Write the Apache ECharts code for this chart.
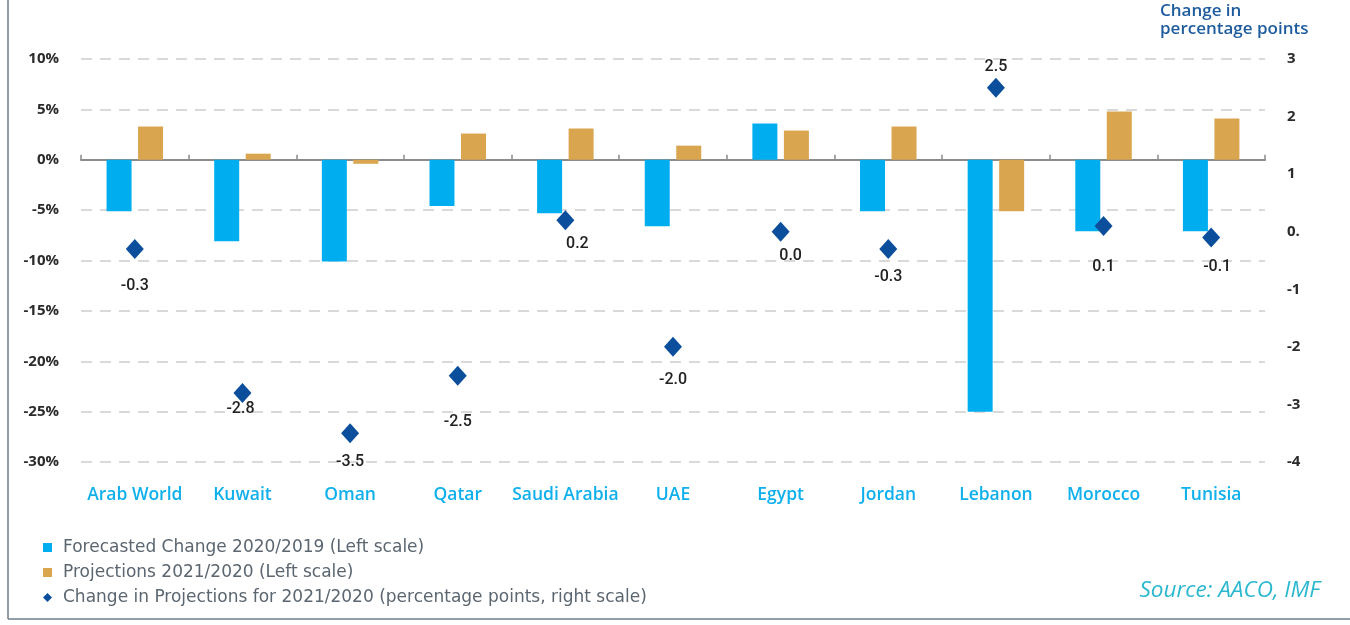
<!DOCTYPE html>
<html>
<head>
<meta charset="utf-8">
<script src="https://cdn.jsdelivr.net/npm/echarts@6/dist/echarts.min.js"></script>
<style>
html,body{margin:0;padding:0;background:#fff;}
#chart{width:1350px;height:625px;}
</style>
</head>
<body>
<div id="chart"></div>
<script>
const categories = ['Arab World','Kuwait','Oman','Qatar','Saudi Arabia','UAE','Egypt','Jordan','Lebanon','Morocco','Tunisia'];
const forecast2020 = [-5.1,-8.1,-10.1,-4.6,-5.3,-6.6,3.6,-5.1,-25.0,-7.1,-7.1];
const projection2021 = [3.3,0.6,-0.4,2.6,3.1,1.4,2.9,3.3,-5.1,4.8,4.1];
const changeProjection = [-0.3,-2.8,-3.5,-2.5,0.2,-2.0,0.0,-0.3,2.5,0.1,-0.1];
const leftTicks = {min:-30,max:10,interval:5};
const rightTicks = {min:-4,max:3,interval:1};
// label layout tweaks (relative to each diamond)
const labelShiftY = [37,16,29,46,24,33,24,28,-21,41,30];
const labelShiftX = [0,-2,0,0,12,0,10,0,0,0,6];

const chart = echarts.init(document.getElementById('chart'));
const font = 'Open Sans';
const wide = 'DejaVu Sans';
const option = {
  animation:false,
  backgroundColor:'#ffffff',
  grid:{left:81,right:85,top:59,bottom:163,containLabel:false},
  legend:{
    orient:'vertical',left:38,top:534,itemGap:8,itemWidth:9,itemHeight:9,
    textStyle:{fontFamily:wide,fontSize:17,color:'#5b6670',padding:[0,0,0,6]},
    data:[
      {name:'Forecasted Change 2020/2019 (Left scale)',icon:'rect'},
      {name:'Projections 2021/2020 (Left scale)',icon:'rect'},
      {name:'Change in Projections for 2021/2020 (percentage points, right scale)',icon:'diamond'}
    ]
  },
  xAxis:[
    {type:'category',data:categories,position:'bottom',
     axisLine:{onZero:true,onZeroAxisIndex:0,lineStyle:{color:'#8c8c8c',width:2}},
     axisTick:{show:true,inside:true,length:5,lineStyle:{color:'#8c8c8c',width:1.5}},
     axisLabel:{show:false},splitLine:{show:false}},
    {type:'category',data:categories,position:'bottom',
     axisLine:{show:false,onZero:false},axisTick:{show:false},
     axisLabel:{show:true,interval:0,margin:24,fontFamily:font,fontSize:17.5,fontWeight:600,color:'#0fb0ec'},
     splitLine:{show:false}}
  ],
  yAxis:[
    {type:'value',min:leftTicks.min,max:leftTicks.max,interval:leftTicks.interval,position:'left',
     axisLine:{show:false},axisTick:{show:false},
     axisLabel:{margin:22,fontFamily:font,fontSize:15,fontWeight:'bold',color:'#2b2b2b',
       formatter:function(v){return v+'%';}},
     splitLine:{show:true,lineStyle:{color:'#d9d9d9',width:2,type:[11,8]}}},
    {type:'value',min:rightTicks.min,max:rightTicks.max,interval:rightTicks.interval,position:'right',
     axisLine:{show:false},axisTick:{show:false},
     axisLabel:{margin:22,fontFamily:font,fontSize:15,fontWeight:'bold',color:'#2b2b2b',padding:[0,0,8,0],
       formatter:function(v){return v===0?'0.':String(v);}},
     splitLine:{show:false}}
  ],
  series:[
    {name:'Forecasted Change 2020/2019 (Left scale)',type:'bar',xAxisIndex:0,yAxisIndex:0,
     data:forecast2020,barWidth:25,barGap:'26%',itemStyle:{color:'#00aeef'}},
    {name:'Projections 2021/2020 (Left scale)',type:'bar',xAxisIndex:0,yAxisIndex:0,
     data:projection2021,barWidth:25,barGap:'26%',itemStyle:{color:'#d9a54f'}},
    {name:'Change in Projections for 2021/2020 (percentage points, right scale)',type:'scatter',
     xAxisIndex:0,yAxisIndex:1,symbol:'diamond',symbolSize:[18,20],z:5,
     itemStyle:{color:'#0b4f9c',opacity:1},
     data:changeProjection.map(function(v,i){
       return {value:v,label:{show:true,position:'inside',offset:[labelShiftX[i],labelShiftY[i]],
         formatter:function(p){return p.value.toFixed(1);},
         fontFamily:'Roboto',fontSize:16,fontWeight:500,color:'#222222'}};
     })}
  ],
  graphic:[
    {type:'text',left:1160,top:2,style:{text:'Change in\npercentage points',fontFamily:font,fontSize:17,fontWeight:600,fill:'#1f5c9e',lineHeight:18}},
    {type:'text',right:30,top:579,style:{text:'Source: AACO, IMF',fontFamily:font,fontSize:22.5,fontStyle:'italic',fill:'#2bb8cf'}},
    {type:'line',shape:{x1:8,y1:0,x2:8,y2:619},style:{stroke:'#6f7c89',lineWidth:1.5}},
    {type:'line',shape:{x1:8,y1:619,x2:1350,y2:619},style:{stroke:'#6f7c89',lineWidth:1.5}}
  ]
};
chart.setOption(option);
</script>
</body>
</html>
